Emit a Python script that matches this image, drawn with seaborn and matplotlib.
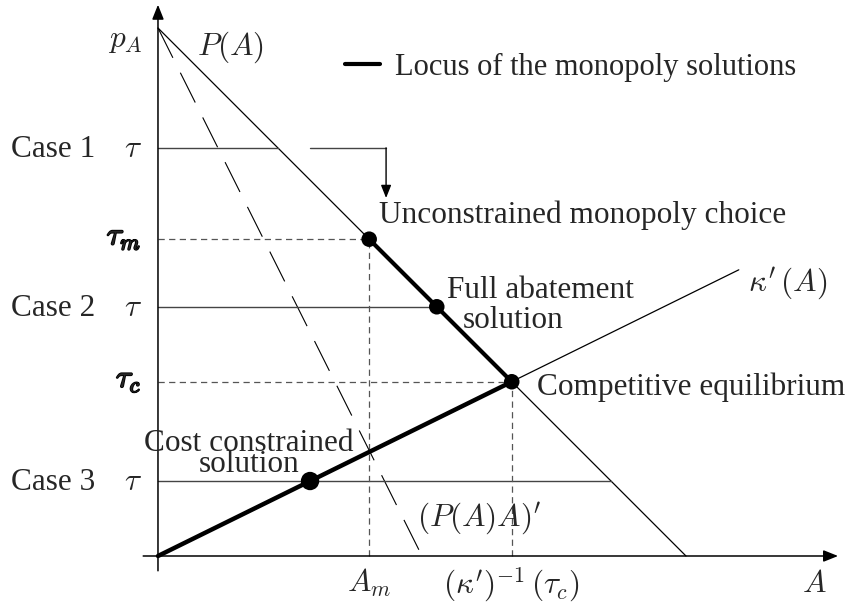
import numpy as np
import pandas as pd
import matplotlib
matplotlib.use("Agg")
import matplotlib.pyplot as plt
import matplotlib.patheffects as pe
import seaborn as sns

# ---------------- data ----------------
demand_A = [0.0, 10.0]          # P(A)
demand_p = [10.0, 0.0]
mr_A = [0.0, 5.0]               # (P(A)A)'
mr_p = [10.0, 0.0]
kappa_A = [0.0, 11.0]           # kappa'(A)
kappa_p = [0.0, 5.42]

case_labels = ["Case 1", "Case 2", "Case 3"]
case_tau = [7.73, 4.72, 1.42]
case_end_A = [2.27, 5.28, 8.58]

tau_m, A_m = 6.0, 4.0
tau_c, A_c = 3.3, 6.7

point_A = [4.0, 5.28, 6.7]
point_p = [6.0, 4.72, 3.3]
cost_A = [2.88]
cost_p = [1.42]

locus_upper_A = [4.0, 6.7]
locus_upper_p = [6.0, 3.3]
locus_lower_A = [0.0, 6.7]
locus_lower_p = [0.0, 3.3]

# ---------------- style ----------------
sns.set_theme(style="white")
plt.rcParams["font.family"] = ["Liberation Serif", "DejaVu Serif"]
plt.rcParams["mathtext.fontset"] = "cm"
FS = 22.5

fig = plt.figure(figsize=(8.53, 6.12), dpi=100)
ax = fig.add_axes([0, 0, 1, 1])
ax.set_xlim(-2.992, 13.163)
ax.set_ylim(-1.0606, 10.530)
ax.axis("off")

def line(x, y, **kw):
    sns.lineplot(x=x, y=y, ax=ax, sort=False, estimator=None, legend=False, **kw)

# axes with arrows
arrow_kw = dict(arrowstyle="-|>,head_length=0.55,head_width=0.22", color="black",
                lw=1.1, mutation_scale=16, shrinkA=0, shrinkB=0)
ax.annotate("", xy=(0, 10.44), xytext=(0, -0.28), arrowprops=arrow_kw)
ax.annotate("", xy=(12.88, 0), xytext=(-0.28, 0), arrowprops=arrow_kw)

# curves
line(demand_A, demand_p, color="black", lw=0.9)
line(mr_A, mr_p, color="black", lw=0.8, linestyle=(0, (30, 15)))
line(kappa_A, kappa_p, color="black", lw=0.9)

# tau levels for cases
for t, e in zip(case_tau, case_end_A):
    line([0, e], [t, t], color="#444444", lw=1.0)

# dashed guides
dash = (0, (5, 3.5))
line([0, A_m], [tau_m, tau_m], color="#555555", lw=0.9, linestyle=dash)
line([A_m, A_m], [0, tau_m], color="#555555", lw=0.9, linestyle=dash)
line([0, A_c], [tau_c, tau_c], color="#555555", lw=0.9, linestyle=dash)
line([A_c, A_c], [0, tau_c], color="#555555", lw=0.9, linestyle=dash)

# connector arrow case 1
line([2.88, 4.32], [case_tau[0], case_tau[0]], color="#444444", lw=1.0)
ax.annotate("", xy=(4.32, 6.78), xytext=(4.32, case_tau[0]),
            arrowprops=dict(arrowstyle="-|>,head_length=0.55,head_width=0.22",
                            color="black", lw=1.0, mutation_scale=14,
                            shrinkA=0, shrinkB=0))

# locus
line(locus_upper_A, locus_upper_p, color="black", lw=3.0)
line(locus_lower_A, locus_lower_p, color="black", lw=3.2)

# points
sns.scatterplot(x=point_A, y=point_p, ax=ax, color="black", s=125,
                edgecolor="none", zorder=5, legend=False)
sns.scatterplot(x=cost_A, y=cost_p, ax=ax, color="black", s=175,
                edgecolor="none", zorder=5, legend=False)

# legend
line([3.54, 4.20], [9.32, 9.32], color="black", lw=3.0)
ax.text(4.49, 9.32, "Locus of the monopoly solutions", fontsize=22, va="center_baseline")

# labels
ax.text(-0.62, 9.77, r"$p_A$", fontsize=FS, ha="center", va="center")
ax.text(1.38, 9.64, r"$P(A)$", fontsize=FS, ha="center", va="center")

for lab, t in zip(case_labels, case_tau):
    ax.text(-2.78, t - 0.17, lab, fontsize=FS, va="baseline")
    ax.text(-0.47, t - 0.17, r"$\tau$", fontsize=FS, va="baseline", ha="center")

bold = [pe.withStroke(linewidth=1.3, foreground="black")]
ax.text(-0.32, tau_m - 0.10, r"$\tau_m$", fontsize=FS, va="baseline", ha="right",
        path_effects=bold)
ax.text(-0.32, tau_c - 0.10, r"$\tau_c$", fontsize=FS, va="baseline", ha="right",
        path_effects=bold)

ax.text(4.19, 6.31, "Unconstrained monopoly choice", fontsize=FS, va="baseline")
ax.text(5.47, 4.89, "Full abatement", fontsize=FS, va="baseline")
ax.text(5.78, 4.32, "solution", fontsize=FS, va="baseline")
ax.text(7.18, 3.05, "Competitive equilibrium", fontsize=FS, va="baseline")
ax.text(11.17, 5.0, r"$\kappa'\,(A)$", fontsize=FS, va="baseline")
ax.text(1.72, 1.59, "Cost constrained\nsolution", fontsize=FS, va="baseline",
        ha="center", multialignment="center", linespacing=0.66)
ax.text(4.9, 0.55, r"$(P(A)A)'$", fontsize=FS, va="baseline")
ax.text(A_m, -0.68, r"$A_m$", fontsize=FS, va="baseline", ha="center")
ax.text(A_c, -0.70, r"$(\kappa')^{-1}\,(\tau_c)$", fontsize=FS, va="baseline", ha="center")
ax.text(12.2, -0.68, r"$A$", fontsize=FS, va="baseline")

fig.savefig("out.png", dpi=100)
